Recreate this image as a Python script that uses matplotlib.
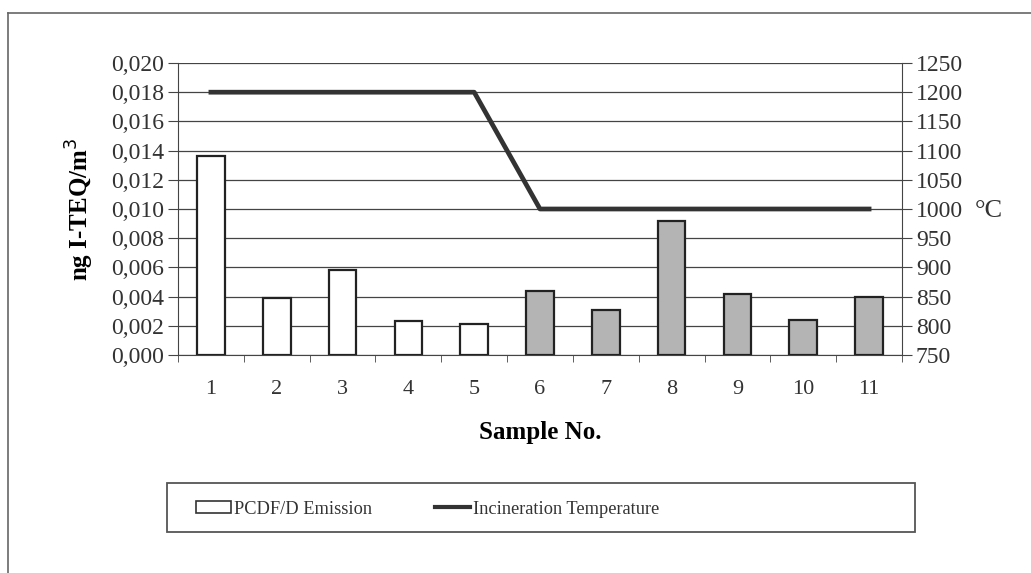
import matplotlib
matplotlib.use("Agg")
import matplotlib.pyplot as plt
from matplotlib.lines import Line2D
from matplotlib.patches import Patch, Rectangle
from matplotlib.ticker import FixedLocator, FuncFormatter

plt.rcParams["font.family"] = ["Liberation Serif", "DejaVu Serif"]

# data
samples = ["1", "2", "3", "4", "5", "6", "7", "8", "9", "10", "11"]
emission = [0.0136, 0.0039, 0.0058, 0.0023, 0.0021, 0.0044, 0.0031, 0.0092, 0.0042, 0.0024, 0.0040]
temperature = [1200, 1200, 1200, 1200, 1200, 1000, 1000, 1000, 1000, 1000, 1000]
bar_colors = ["white"] * 5 + ["#b4b4b4"] * 6

W, H = 1031, 573
fig = plt.figure(figsize=(W / 100, H / 100), dpi=100)
ax = fig.add_axes([178 / W, 1 - 355 / H, 724 / W, 292 / H])

x = list(range(len(samples)))
ax.bar(x, emission, width=0.42, color=bar_colors, edgecolor="#222222", linewidth=1.6, zorder=3)
ax.set_xlim(-0.5, len(samples) - 0.5)
ax.set_ylim(0, 0.020)
ax.yaxis.set_major_locator(FixedLocator([i * 0.002 for i in range(11)]))
ax.yaxis.set_major_formatter(FuncFormatter(lambda v, p: f"{v:.3f}".replace(".", ",")))
ax.grid(axis="y", color="#444444", linewidth=0.9, zorder=0)
ax.set_xticks(x)
ax.set_xticklabels(samples)
ax.set_xticks([i + 0.5 for i in range(-1, len(samples))], minor=True)
ax.tick_params(axis="x", which="major", length=0, pad=18, labelsize=16, colors="#333333")
ax.tick_params(axis="x", which="minor", length=5, direction="out", color="#444444")
ax.tick_params(axis="y", length=7, direction="out", labelsize=17, color="#444444",
               labelcolor="#333333", pad=3)
ax.spines["top"].set_visible(False)
ax.spines["right"].set_visible(False)
for s in ("left", "bottom"):
    ax.spines[s].set_color("#444444")
ax.set_ylabel("ng I-TEQ/m$^3$", fontsize=18, fontweight="bold")
ax.yaxis.set_label_coords(-0.113, 0.5)
ax.set_xlabel("Sample No.", fontsize=18, fontweight="bold")
ax.xaxis.set_label_coords(0.5, -0.225)

ax2 = ax.twinx()
ax2.plot(x, temperature, color="#333333", linewidth=3.4, zorder=4)
ax2.set_ylim(750, 1250)
ax2.set_yticks(range(750, 1251, 50))
ax2.tick_params(axis="y", length=7, direction="out", labelsize=17, color="#444444",
                labelcolor="#333333", pad=3)
for s in ("top", "left", "bottom"):
    ax2.spines[s].set_visible(False)
ax2.spines["right"].set_color("#444444")
fig.text(975 / W, 1 - 211 / H, "°C", fontsize=19, va="center", ha="left", color="#333333")

# legend frame and entries
fig.add_artist(Rectangle((167 / W, 1 - 532 / H), 748 / W, 49 / H, transform=fig.transFigure,
                         facecolor="none", edgecolor="#555555", linewidth=1.3))
handles = [Patch(facecolor="white", edgecolor="#333333", linewidth=1.2),
           Line2D([], [], color="#333333", linewidth=3)]
labels = ["PCDF/D Emission", "Incineration Temperature"]
leg = fig.legend(handles, labels, loc="center left", ncol=2, frameon=False,
                 bbox_to_anchor=(196 / W, 1 - 509 / H),
                 fontsize=13.2, handlelength=1.9, handleheight=0.65, handletextpad=0.2,
                 borderpad=0, borderaxespad=0, columnspacing=3.4)
for t in leg.get_texts():
    t.set_color("#333333")

# outer frame (left and top edges visible in the scan)
fig.add_artist(Line2D([8 / W, 8 / W], [0, 1 - 13 / H], color="#666666", linewidth=1.2,
                      transform=fig.transFigure))
fig.add_artist(Line2D([8 / W, 1], [1 - 13 / H, 1 - 13 / H], color="#666666", linewidth=1.2,
                      transform=fig.transFigure))

fig.savefig("out.png", dpi=100)
